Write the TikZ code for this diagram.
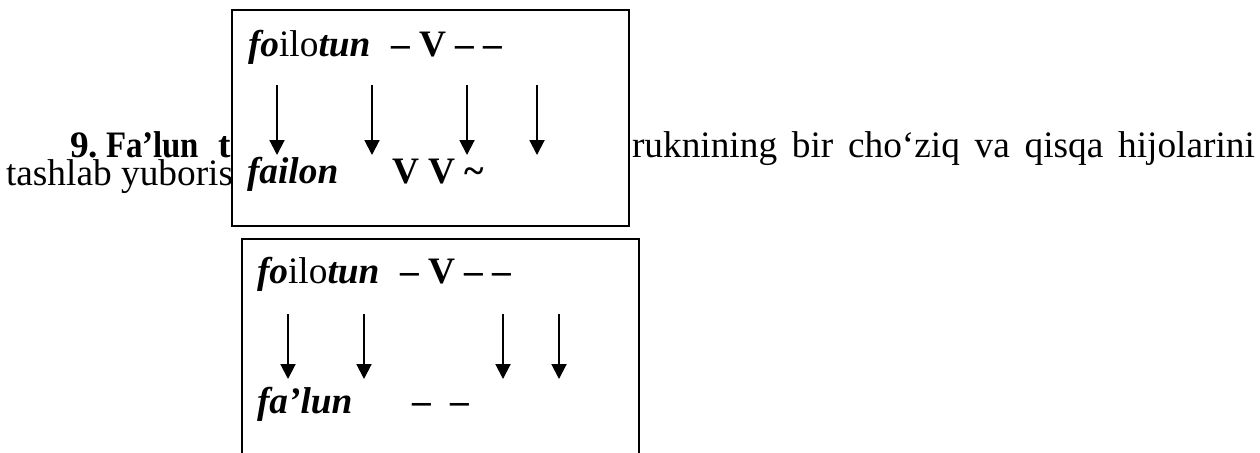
\documentclass[tikz,border=0pt]{standalone}
\usepackage{fontspec}
\setmainfont{Liberation Serif}
\usetikzlibrary{arrows.meta}
\begin{document}
\begin{tikzpicture}[x=0.375pt,y=-0.375pt,
  txt/.style={anchor=base west,inner sep=0pt,outer sep=0pt,font=\fontsize{14}{16}\selectfont},
  frame/.style={draw=black,line width=0.9pt,fill=white},
  down/.style={line width=0.75pt,-{Triangle[width=5.6pt,length=5.6pt]}}]
\useasboundingbox (0,0) rectangle (1260,452);
\clip (0,0) rectangle (1260,452);
% running text (partly hidden by the first box)
\node[txt] (n9) at (70,157) {\textbf{9.}};
\node[txt] (fa) at (106,157) {\scalebox{0.88}[1]{\textbf{Fa’lun}}};
\node[txt] (tt) at (218,157) {\textbf{t}};
\node[txt] (tash) at (6,185) {tashlab yuboris};
\node[txt] (rukn) at (632,157) {\makebox[233.6pt][s]{ruknining bir cho‘ziq va qisqa hijolarini}};
% first box
\path[frame] (232,10) rectangle (629,226);
\node[txt] (a1) at (248,56) {\textbf{\textit{fo}}ilo\textbf{\textit{tun}}};
\node[txt] (a2) at (391,56) {\textbf{– V – –}};
\node[txt] (b1) at (247,183) {\textbf{\textit{failon}}};
\node[txt] (b2) at (392,183) {\textbf{V V \textasciitilde}};
\foreach \i/\x in {1/277,2/372,3/467,4/537}{
  \coordinate (p\i) at (\x,85);
  \coordinate (q\i) at (\x,155);
  \draw[down] (p\i) -- (q\i);
}
% second box
\path[frame] (242,239) rectangle (639,470);
\node[txt] (c1) at (257,283) {\textbf{\textit{fo}}ilo\textbf{\textit{tun}}};
\node[txt] (c2) at (400,283) {\textbf{– V – –}};
\node[txt] (d1) at (257,413) {\textbf{\textit{fa’lun}}};
\node[txt] (d2) at (412,413) {\textbf{–\hspace{7.5pt}–}};
\foreach \i/\x in {1/288,2/364,3/503,4/559}{
  \coordinate (r\i) at (\x,314);
  \coordinate (s\i) at (\x,379);
  \draw[down] (r\i) -- (s\i);
}
\end{tikzpicture}
\end{document}
